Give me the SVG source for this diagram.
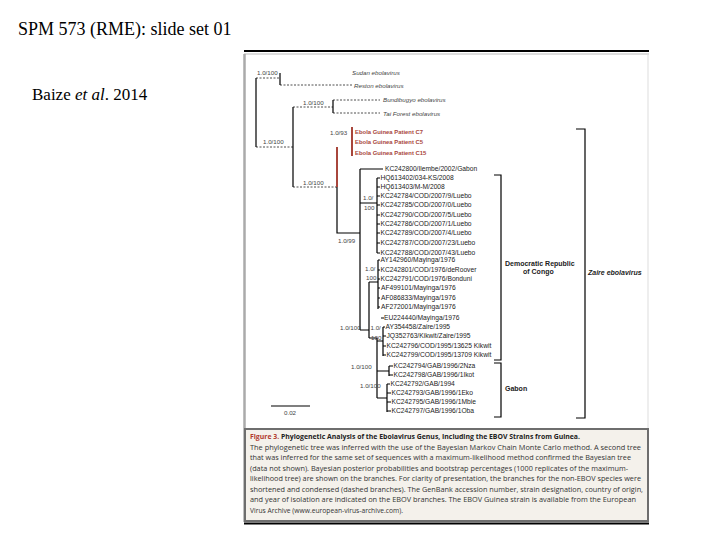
<svg xmlns="http://www.w3.org/2000/svg" width="720" height="540" viewBox="0 0 720 540">
<style>
.title{font-family:"Liberation Serif","Times New Roman",serif;fill:#000}
.leaf{font-family:"Liberation Sans",Arial,sans-serif;font-size:6.7px;fill:#222}
.sup{font-family:"Liberation Sans",Arial,sans-serif;font-size:6.2px;fill:#444}
.sp{font-family:"Liberation Sans",Arial,sans-serif;font-size:6.2px;font-style:italic;fill:#444}
.gu{font-family:"Liberation Sans",Arial,sans-serif;font-size:5.9px;font-weight:bold;fill:#a8463c}
.grp{font-family:"Liberation Sans",Arial,sans-serif;font-size:7px;font-weight:bold;fill:#222}
.cap{font-family:"Open Sans","Liberation Sans",Arial,sans-serif;font-size:7.4px;fill:#333}
.capb{font-family:"Open Sans","Liberation Sans",Arial,sans-serif;font-size:7.4px;font-weight:bold;fill:#222}
.br{fill:none;stroke:#000;stroke-width:1.2}
.dash{fill:none;stroke:#222;stroke-width:0.8;stroke-dasharray:2 1.5}
.red{fill:none;stroke:#a8463c;stroke-width:2}
</style>
<rect width="720" height="540" fill="#fff"/>
<text class="title" x="18" y="35" font-size="18">SPM 573 (RME): slide set 01</text>
<text class="title" x="32" y="100" font-size="17">Baize <tspan font-style="italic">et al</tspan>. 2014</text>

<g id="frame">
<line x1="244" y1="51" x2="649" y2="51" stroke="#000" stroke-width="2"/>
<line x1="244" y1="54" x2="649" y2="54" stroke="#bbb" stroke-width="1.2"/>
<line x1="244.5" y1="54" x2="244.5" y2="522" stroke="#aaa" stroke-width="2.5"/>
<line x1="648" y1="54" x2="648" y2="522" stroke="#ddd" stroke-width="1"/>
<line x1="244" y1="523.5" x2="649" y2="523.5" stroke="#000" stroke-width="1.8"/>
</g>

<g id="connectors">
<path class="dash" d="M256,78H280M280,85H352M256,147H293M293,107H333M333,100H380M333,113H380M293,187H337"/>
<path class="br" d="M256,78V147M280,73V85M293,107V187M333,100V113"/>
<path class="red" d="M337,147V187"/>
<path class="red" d="M352,127V156" stroke-width="1.5"/>
<path class="br" d="M337,187V233H360M360,169V330M360,169H383M360,203H377M377,178V253
M377,178H380M377,187H380M377,196H380M377,205H380M377,215H380M377,224H380M377,233H380M377,243H380M377,253H380
M360,330H369M369,282V338M369,282H378M378,260V309M378,260H380M378,270H380M378,279H380M378,288H380M378,298H380M378,307H380
M381,318H384M369,338H377M377,338V398M377,341H383M383,327V356M383,327H385M383,336H386M383,346H386M383,355H386
M377,371H389M389,366V376M389,366H393M389,375H393M377,398H387M387,384V412M387,384H390M387,393H391M387,402H391M387,411H391"/>
<path class="br" d="M271,406H310"/>
</g>

<g id="species">
<text class="sp" x="352" y="74.5">Sudan ebolavirus</text>
<text class="sp" x="354" y="87.5">Reston ebolavirus</text>
<text class="sp" x="383" y="102">Bundibugyo ebolavirus</text>
<text class="sp" x="383" y="115.5">Tai Forest ebolavirus</text>
</g>

<g id="support">
<text class="sup" x="257" y="75">1.0/100</text>
<text class="sup" x="303" y="105">1.0/100</text>
<text class="sup" x="263" y="144">1.0/100</text>
<text class="sup" x="330" y="135">1.0/93</text>
<text class="sup" x="303" y="185">1.0/100</text>
<text class="sup" x="363" y="200">1.0/</text>
<text class="sup" x="364" y="210">100</text>
<text class="sup" x="338" y="243">1.0/99</text>
<text class="sup" x="365" y="271">1.0/</text>
<text class="sup" x="366" y="280">100</text>
<text class="sup" x="340" y="330">1.0/100</text>
<text class="sup" x="370.5" y="330">1.0/</text>
<text class="sup" x="371" y="339.5">100</text>
<text class="sup" x="351" y="369">1.0/100</text>
<text class="sup" x="360" y="388">1.0/100</text>
<text class="sup" x="284" y="415">0.02</text>
</g>

<g id="guinea">
<text class="gu" x="355" y="133.5">Ebola Guinea Patient C7</text>
<text class="gu" x="355" y="144">Ebola Guinea Patient C5</text>
<text class="gu" x="355" y="154.5">Ebola Guinea Patient C15</text>
</g>

<g id="leaves">
<text class="leaf" x="385" y="171.3">KC242800/Ilembe/2002/Gabon</text>
<text class="leaf" x="380.5" y="180.3">HQ613402/034-KS/2008</text>
<text class="leaf" x="380.5" y="189.3">HQ613403/M-M/2008</text>
<text class="leaf" x="380.5" y="198.3">KC242784/COD/2007/9/Luebo</text>
<text class="leaf" x="380.5" y="207.3">KC242785/COD/2007/0/Luebo</text>
<text class="leaf" x="380.5" y="217.3">KC242790/COD/2007/5/Luebo</text>
<text class="leaf" x="380.5" y="226.3">KC242786/COD/2007/1/Luebo</text>
<text class="leaf" x="380.5" y="235.3">KC242789/COD/2007/4/Luebo</text>
<text class="leaf" x="380.5" y="245.3">KC242787/COD/2007/23/Luebo</text>
<text class="leaf" x="380.5" y="255.3">KC242788/COD/2007/43/Luebo</text>
<text class="leaf" x="380.5" y="262.3">AY142960/Mayinga/1976</text>
<text class="leaf" x="380.5" y="272.3">KC242801/COD/1976/deRoover</text>
<text class="leaf" x="380.5" y="281.3">KC242791/COD/1976/Bonduni</text>
<text class="leaf" x="381" y="290.3">AF499101/Mayinga/1976</text>
<text class="leaf" x="381" y="300.3">AF086833/Mayinga/1976</text>
<text class="leaf" x="381" y="309.3">AF272001/Mayinga/1976</text>
<text class="leaf" x="384" y="320.3">EU224440/Mayinga/1976</text>
<text class="leaf" x="385.5" y="329.3">AY354458/Zaire/1995</text>
<text class="leaf" x="386.5" y="338.3">JQ352763/Kikwit/Zaire/1995</text>
<text class="leaf" x="386.5" y="348.3">KC242796/COD/1995/13625 Kikwit</text>
<text class="leaf" x="386.5" y="357.3">KC242799/COD/1995/13709 Kikwit</text>
<text class="leaf" x="393.5" y="368.3">KC242794/GAB/1996/2Nza</text>
<text class="leaf" x="393.5" y="377.3">KC242798/GAB/1996/1Ikot</text>
<text class="leaf" x="390.5" y="386.3">KC242792/GAB/1994</text>
<text class="leaf" x="391.5" y="395.3">KC242793/GAB/1996/1Eko</text>
<text class="leaf" x="391.5" y="404.3">KC242795/GAB/1996/1Mbie</text>
<text class="leaf" x="391.5" y="413.3">KC242797/GAB/1996/1Oba</text>
</g>

<g id="groups">
<path class="br" d="M494,175H501V360H494M494,363H501V417H494M576,129H585V418H576"/>
<text class="grp" x="505" y="266">Democratic Republic</text>
<text class="grp" x="523" y="274">of Congo</text>
<text class="grp" x="505" y="391">Gabon</text>
<text class="grp" x="588" y="275" font-style="italic">Zaire ebolavirus</text>
</g>

<g id="caption">
<rect x="245" y="429" width="403" height="92" fill="#f4f1eb" stroke="#6e6e6e" stroke-width="2"/>
<text class="capb" x="250" y="439" textLength="330" lengthAdjust="spacingAndGlyphs"><tspan fill="#b03a2e">Figure 3.</tspan> Phylogenetic Analysis of the Ebolavirus Genus, Including the EBOV Strains from Guinea.</text>
<text class="cap" x="250" y="449.5" textLength="391" lengthAdjust="spacingAndGlyphs">The phylogenetic tree was inferred with the use of the Bayesian Markov Chain Monte Carlo method. A second tree</text>
<text class="cap" x="250" y="460" textLength="381" lengthAdjust="spacingAndGlyphs">that was inferred for the same set of sequences with a maximum-likelihood method confirmed the Bayesian tree</text>
<text class="cap" x="250" y="470.5" textLength="378" lengthAdjust="spacingAndGlyphs">(data not shown). Bayesian posterior probabilities and bootstrap percentages (1000 replicates of the maximum-</text>
<text class="cap" x="250" y="481" textLength="391" lengthAdjust="spacingAndGlyphs">likelihood tree) are shown on the branches. For clarity of presentation, the branches for the non-EBOV species were</text>
<text class="cap" x="250" y="491.5" textLength="393" lengthAdjust="spacingAndGlyphs">shortened and condensed (dashed branches). The GenBank accession number, strain designation, country of origin,</text>
<text class="cap" x="250" y="502" textLength="386" lengthAdjust="spacingAndGlyphs">and year of isolation are indicated on the EBOV branches. The EBOV Guinea strain is available from the European</text>
<text class="cap" x="250" y="512.5" textLength="153" lengthAdjust="spacingAndGlyphs">Virus Archive (www.european-virus-archive.com).</text>
</g>
</svg>
